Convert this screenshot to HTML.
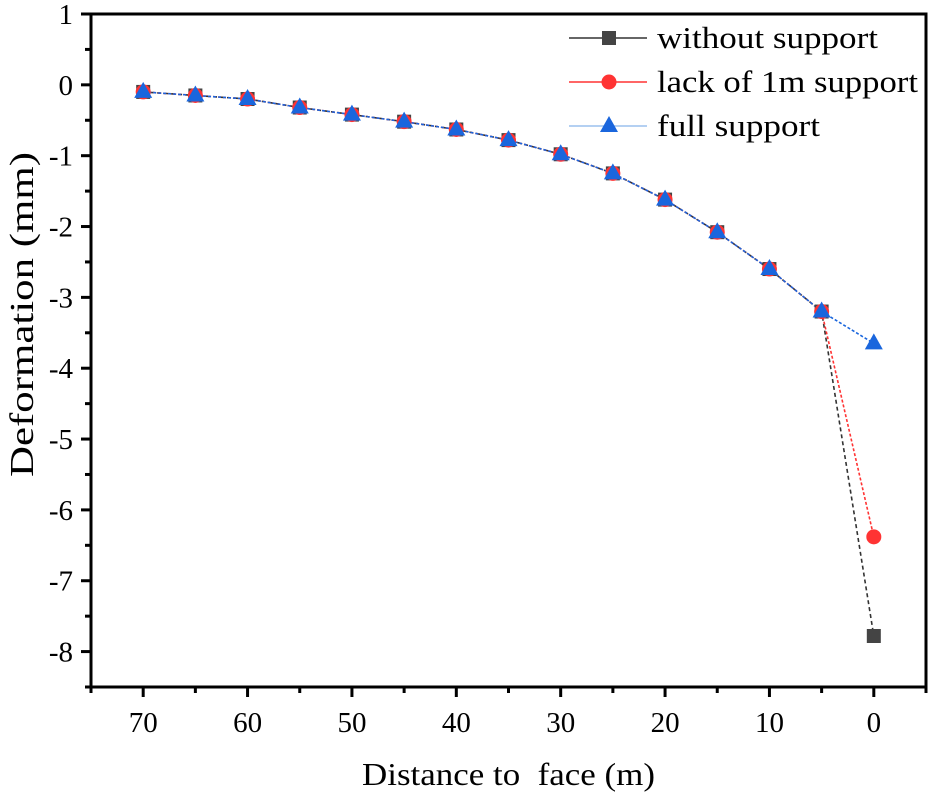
<!DOCTYPE html>
<html><head><meta charset="utf-8"><style>
html,body{margin:0;padding:0;background:#fff;}
svg{display:block;font-family:"Liberation Serif","DejaVu Serif",serif;}
text{font-family:"Liberation Serif","DejaVu Serif",serif;}
</style></head><body>
<svg id="chart" width="931" height="798" viewBox="0 0 931 798" xmlns="http://www.w3.org/2000/svg"></svg>
<script>
const distances = [70,65,60,55,50,45,40,35,30,25,20,15,10,5,0];
const common = [-0.1,-0.15,-0.2,-0.32,-0.42,-0.52,-0.63,-0.78,-0.98,-1.25,-1.62,-2.08,-2.6,-3.2];
const withoutSupport = common.concat([-7.78]);
const lackSupport = common.concat([-6.38]);
const fullSupport = common.concat([-3.65]);
const xTicks = [70,60,50,40,30,20,10,0];
const yTicks = [1,0,-1,-2,-3,-4,-5,-6,-7,-8];

const L=91,R=926,T=14,B=687;
const X0=75,X1=-5,Y0=-8.5,Y1=1;
const sx=v=>L+(X0-v)/(X0-X1)*(R-L);
const sy=v=>B-(v-Y0)/(Y1-Y0)*(B-T);
const svg=document.getElementById('chart');
const NS='http://www.w3.org/2000/svg';
function mk(tag,attrs,parent){const e=document.createElementNS(NS,tag);for(const k in attrs)e.setAttribute(k,attrs[k]);(parent||svg).appendChild(e);return e;}

const frame=mk('rect',{x:L,y:T,width:R-L,height:B-T,fill:'none',stroke:'#000','stroke-width':3});



for(let v=Y0;v<=Y1+0.001;v+=0.5){
  const y=sy(v);const major=Math.abs(v-Math.round(v))<0.01;
  const t=mk('line',{x1:L,x2:L-(major?10:6),y1:y,y2:y,stroke:'#000','stroke-width':3});
  
  
}
yTicks.forEach(v=>{
  const t=mk('text',{x:L-18,y:sy(v)+10,'text-anchor':'end','font-size':29});
  t.textContent=v;
  
  
});
for(let v=75;v>=-5;v-=5){
  const x=sx(v);const major=v%10===0;
  const t=mk('line',{x1:x,x2:x,y1:B,y2:B+(major?10:6),stroke:'#000','stroke-width':3});
  
  
}
xTicks.forEach(v=>{
  const t=mk('text',{x:sx(v),y:B+45,'text-anchor':'middle','font-size':29});
  t.textContent=v;
  
  
});
const xt=mk('text',{x:362,y:785,'font-size':32,textLength:293,lengthAdjust:'spacingAndGlyphs'});
xt.textContent='Distance to  face (m)';xt.style.whiteSpace='pre';


const yt=mk('text',{x:0,y:0,'font-size':34,textLength:325,lengthAdjust:'spacingAndGlyphs',transform:'translate(33,477) rotate(-90)'});
yt.textContent='Deformation (mm)';



function pts(vals){return vals.map((v,i)=>sx(distances[i])+','+sy(v)).join(' ');}
function series(vals,color,dash,name){
  const p=mk('polyline',{points:pts(vals),fill:'none',stroke:color,'stroke-width':1.6,'stroke-dasharray':dash});
  
  
}
series(withoutSupport,'#333','4,3','without-support');
series(lackSupport,'#f33','3,2','lack-support');
series(fullSupport,'#1a66dd','3,2','full-support');

function square(x,y,name){const m=mk('rect',{x:x-7,y:y-7,width:14,height:14,fill:'#444'});}
function circle(x,y,name){const m=mk('circle',{cx:x,cy:y,r:7.5,fill:'#f33'});}
function tri(x,y,name){const m=mk('polygon',{points:`${x},${y-10} ${x-9},${y+6} ${x+9},${y+6}`,fill:'#1a66dd'});}
withoutSupport.forEach((v,i)=>square(sx(distances[i]),sy(v),'without-support-point'));
lackSupport.forEach((v,i)=>circle(sx(distances[i]),sy(v),'lack-support-point'));
fullSupport.forEach((v,i)=>tri(sx(distances[i]),sy(v),'full-support-point'));

const leg=[['without support','#333',square,38,221],['lack of 1m support','#f33',circle,82,261],['full support','#9bc0ee',tri,126,163]];
leg.forEach(([lab,col,fn,y,w])=>{
  const l=mk('line',{x1:569,x2:647,y1:y,y2:y,stroke:col,'stroke-width':1.5});
  
  
  fn(609,y,'legend-marker');
  const t=mk('text',{x:657,y:y+10,'font-size':31,textLength:w,lengthAdjust:'spacingAndGlyphs'});
  t.textContent=lab;
  
  
});
</script>
</body></html>
